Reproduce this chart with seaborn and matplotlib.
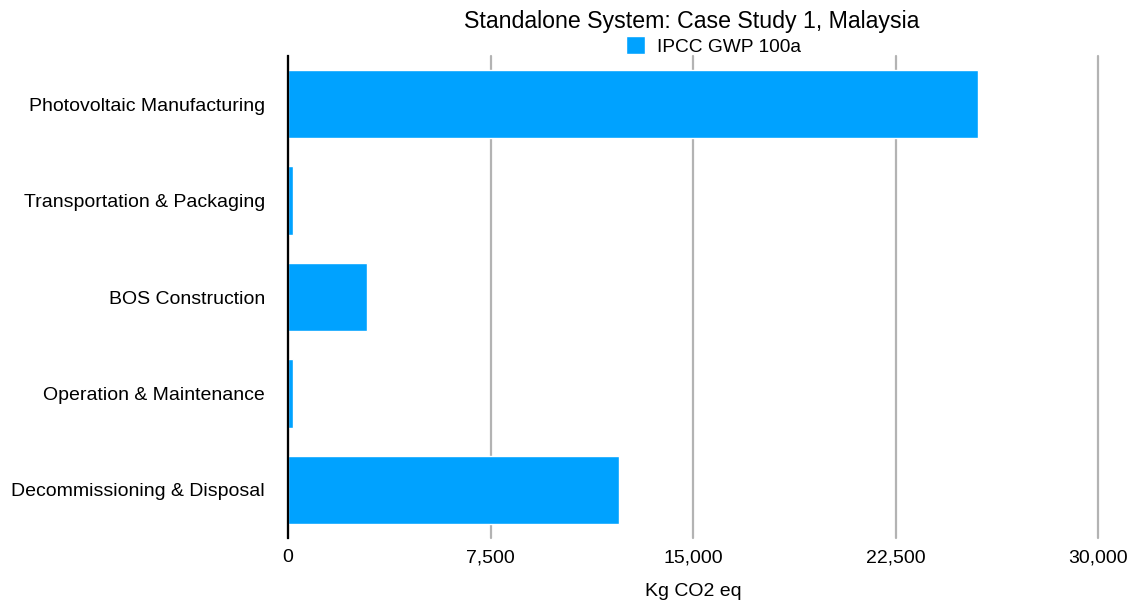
import matplotlib
matplotlib.use('Agg')
import matplotlib.pyplot as plt
import seaborn as sns
import pandas as pd

stages = ['Photovoltaic Manufacturing', 'Transportation & Packaging', 'BOS Construction',
          'Operation & Maintenance', 'Decommissioning & Disposal']
gwp_values = [25550, 180, 2920, 180, 12260]
x_ticks = [0, 7500, 15000, 22500, 30000]

df = pd.DataFrame({'Stage': stages, 'Kg CO2 eq': gwp_values})

sns.set_style('white')
plt.rcParams['font.family'] = ['Liberation Sans', 'DejaVu Sans']
plt.rcParams['text.color'] = 'black'
plt.rcParams['xtick.color'] = 'black'
plt.rcParams['ytick.color'] = 'black'
plt.rcParams['axes.labelcolor'] = 'black'

fig = plt.figure(figsize=(11.3, 6.02), dpi=100)
ax = fig.add_axes([288 / 1130, 1 - 538 / 602, 810 / 1130, 482 / 602])

sns.barplot(data=df, x='Kg CO2 eq', y='Stage', orient='h', color='#00a2ff',
            saturation=1, width=0.71, ax=ax, label='IPCC GWP 100a', zorder=3)

ax.set_xlim(0, 30000)
ax.set_xticks(x_ticks)
ax.set_xticklabels([f'{t:,}' for t in x_ticks], fontsize=14)
ax.xaxis.grid(True, color='#b3b3b3', linewidth=1.6, zorder=0)
for line in ax.get_xgridlines():
    line.set_clip_on(False)
ax.tick_params(axis='x', length=0, pad=8)
ax.tick_params(axis='y', length=0, pad=16.5, labelsize=14)
for s in ['top', 'right', 'bottom']:
    ax.spines[s].set_visible(False)
ax.spines['left'].set_color('black')
ax.spines['left'].set_linewidth(1.6)
ax.spines['left'].set_zorder(5)

ax.set_ylabel('')
ax.set_xlabel('Kg CO2 eq', fontsize=14, labelpad=12)

fig.suptitle('Standalone System: Case Study 1, Malaysia', x=0.612, y=0.983, fontsize=16.7)
ax.legend(loc='lower center', bbox_to_anchor=(0.525, 0.985), frameon=False, fontsize=13.8,
          handlelength=1.0, handleheight=1.0, handletextpad=0.6, borderaxespad=0)

fig.savefig('out.png', dpi=100)
